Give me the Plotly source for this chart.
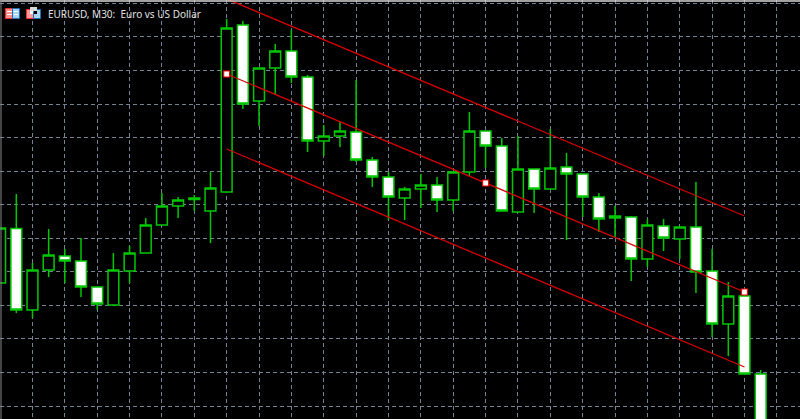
import plotly.graph_objects as go

# Price scale: chart points above the lower edge of the picture
index = list(range(-1, 47))
high = [191, 225, 156, 190, 170, 181, 132, 166, 173, 201, 226, 222, 224, 247, 400, 398,
        351, 375, 389, 344, 294, 297, 339, 262, 247, 232, 245, 242, 247, 307, 288, 281,
        283, 250, 290, 266, 245, 226, 213, 203, 200, 200, 192, 237, 170, 137, 123, 49]
open_ = [136, 190.5, 109, 149, 163, 158, 132, 114, 148, 166, 194, 213, 219.5, 208, 227, 394,
         318, 351, 368, 342, 278, 283, 287, 259, 242, 221, 230, 234, 219, 247, 288, 273,
         207, 250, 230, 252, 245, 222, 201, 202, 160, 193, 180, 192, 148, 95, 123, 45]
close = [191, 109, 149, 164, 158, 132, 115, 149, 166, 194, 213, 219, 221, 231, 391, 315,
         351, 368, 342, 278, 283, 288, 259, 242, 222, 230, 234, 219, 247, 288, 273, 208,
         250, 230, 251, 245, 222, 200, 203, 160, 194, 181, 192, 147, 95, 123, 45, -10]
low = [136, 106, 101, 142, 136, 122, 109, 113.5, 136, 166, 194, 201, 208, 176, 227, 310,
       293, 325, 336, 267, 263, 272, 257, 232, 199, 199, 211, 207, 208, 243, 251, 208,
       207, 206, 230, 179, 202, 187, 182, 138, 152, 168, 160, 126, 82, 63, 45, -10]
channel_x = [13, 45]
channel_top = [420, 203]
channel_mid = [345, 127]
channel_bottom = [270, 52]
anchor_x = [13, 29, 45]
anchor_y = [345, 236, 127]
title = "EURUSD, M30:  Euro vs US Dollar"

GREEN = "#00c800"
RED = "#d80000"
GRID = "#758296"


def rect(x0, y0, x1, y1, fill, line=None):
    return dict(type="rect", xref="paper", yref="paper",
                x0=x0 / 800, x1=x1 / 800, y0=1 - y0 / 419, y1=1 - y1 / 419,
                fillcolor=fill, line=dict(color=line or fill, width=1 if line else 0),
                layer="above")


fig = go.Figure()
fig.add_trace(go.Candlestick(
    x=index, open=open_, high=high, low=low, close=close,
    increasing=dict(fillcolor="#000000", line=dict(color=GREEN, width=1.5)),
    decreasing=dict(fillcolor="#ffffff", line=dict(color=GREEN, width=1.5)),
    showlegend=False,
))
for vals in (channel_top, channel_mid, channel_bottom):
    fig.add_trace(go.Scatter(x=channel_x, y=vals, mode="lines",
                             line=dict(color=RED, width=1.3), showlegend=False))
fig.add_trace(go.Scatter(x=anchor_x, y=anchor_y, mode="markers",
                         marker=dict(symbol="square", size=6, color="#ffffff",
                                     line=dict(color="#ff0000", width=1.2)),
                         showlegend=False))

shapes = [
    dict(type="line", xref="paper", yref="paper", x0=0, x1=1, y0=1 - 1 / 419, y1=1 - 1 / 419,
         line=dict(color="#d8d8d8", width=1.5), layer="above"),
    dict(type="line", xref="paper", yref="paper", x0=1 / 800, x1=1 / 800, y0=0, y1=1,
         line=dict(color="#888888", width=1), layer="above"),
    # left icon
    rect(5.5, 8.5, 12.5, 18.5, "#ff8f8f", "#f03030"),
    rect(12.5, 8.5, 19.5, 18.5, "#a8d4f4", "#1f6fb8"),
    rect(7, 11, 12, 12, "#ffffff"), rect(7, 14, 12, 15, "#ffffff"),
    rect(14, 11, 18, 12, "#ffffff"), rect(14, 14, 18, 15, "#ffffff"),
    # right icon
    rect(26.5, 9.5, 33.5, 18.5, "#ff9a9a", "#f03030"),
    rect(33.5, 9.5, 40.5, 18.5, "#a8d4f4", "#1f6fb8"),
    rect(30, 7, 37, 11, "#d8d8d8"),
    rect(30, 11, 33, 14, "#ffffff"), rect(34, 11, 37, 14, "#000000"),
]

fig.update_layout(
    width=800, height=419, margin=dict(l=0, r=0, t=0, b=0),
    paper_bgcolor="#000000", plot_bgcolor="#000000",
    showlegend=False, boxmode="group", boxgap=0.33, boxgroupgap=0,
    font=dict(family="Noto Sans", color="#ffffff"),
    xaxis=dict(range=[-1.007, 48.43], rangeslider=dict(visible=False),
               tick0=1, dtick=2, showticklabels=False, ticks="", zeroline=False,
               showgrid=True, gridcolor=GRID, griddash="4px,3px", gridwidth=1),
    yaxis=dict(range=[0, 419], tick0=13, dtick=33.55, showticklabels=False,
               ticks="", zeroline=False,
               showgrid=True, gridcolor=GRID, griddash="4px,3px", gridwidth=1),
    annotations=[dict(text=title, xref="paper", yref="paper", x=45.5 / 800, y=1 - 14 / 419,
                      xanchor="left", yanchor="middle", showarrow=False,
                      font=dict(size=10, color="#e0e0e0", family="Noto Sans"))],
    shapes=shapes,
)
fig.write_html("out.html", config=dict(displayModeBar=False),
               post_script="document.body.style.margin='0';document.body.style.background='#000';")
